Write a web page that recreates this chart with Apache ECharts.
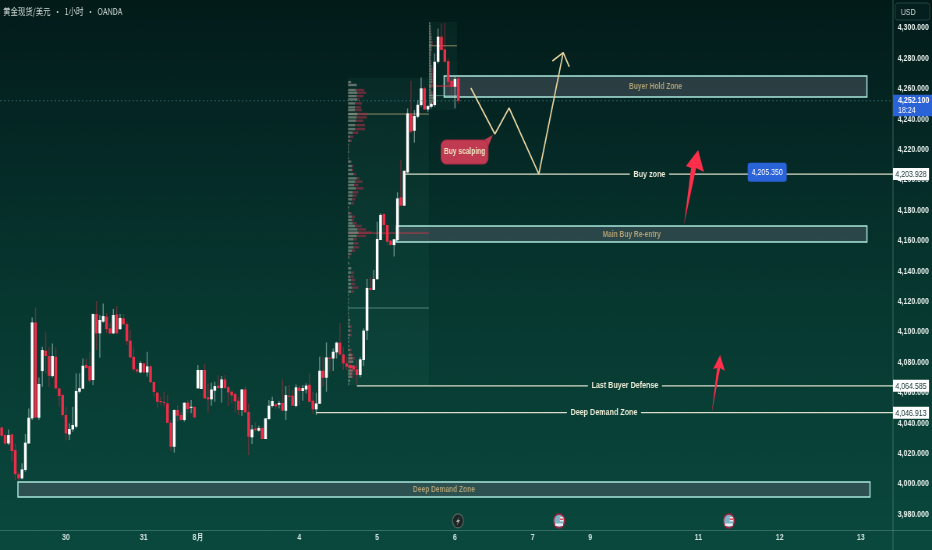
<!DOCTYPE html>
<html><head><meta charset="utf-8">
<style>html,body{margin:0;padding:0;background:#06302b;overflow:hidden;width:932px;height:550px}
#c{width:1195px;height:550px;transform:scaleX(.7799);transform-origin:0 0}</style>
<script src="https://cdn.jsdelivr.net/npm/echarts@6/dist/echarts.min.js"></script>
</head><body><div id="c"></div>
<script>
const opens=[4037.2,4032.2,4026.7,4032.6,4022.3,4006.5,4003.7,4009.2,4026.7,4043.2,
4106.3,4043.6,4074.3,4087.7,4084.2,4071.0,4083.7,4062.9,4058.5,4045.4,
4032.6,4035.9,4037.7,4060.7,4062.7,4078.3,4077.6,4068.4,4111.8,4099.1,
4106.8,4110.1,4102.4,4099.1,4111.6,4101.9,4109.0,4105.2,4094.3,4083.7,
4075.4,4073.4,4079.4,4073.4,4077.4,4067.1,4060.1,4054.6,4053.9,4053.0,
4040.3,4024.5,4048.7,4045.4,4042.1,4053.5,4050.2,4050.8,4062.9,4062.5,
4075.0,4057.0,4055.7,4061.4,4064.7,4063.1,4068.8,4063.6,4060.7,4059.2,
4054.8,4048.7,4062.2,4047.3,4030.7,4036.4,4035.1,4036.8,4029.6,4042.7,
4051.3,4052.4,4052.2,4053.3,4048.2,4058.1,4058.1,4051.3,4063.3,4061.2,
4062.2,4065.3,4054.8,4049.1,4052.8,4074.5,4069.9,4083.1,4082.6,4086.6,
4093.0,4085.3,4079.4,4078.3,4077.6,4075.5,4071.7,4081.6,4100.9,4129.0,
4127.7,4134.7,4160.5,4177.6,4170.4,4160.1,4157.2,4160.5,4188.6,4183.1,
4205.0,4243.4,4232.4,4241.6,4249.3,4260.3,4246.4,4248.2,4249.3,4277.8,
4294.3,4285.9,4278.2,4265.3,4261.4,4266.8];
const closes=[4031.8,4026.7,4032.2,4021.7,4006.5,4003.7,4009.6,4027.2,4043.6,4106.3,
4043.8,4065.8,4088.1,4084.2,4071.2,4084.2,4062.9,4057.9,4045.4,4033.3,
4036.2,4038.8,4061.2,4063.1,4077.8,4076.3,4068.0,4111.8,4099.1,4107.9,
4110.5,4101.9,4099.1,4111.2,4099.1,4109.2,4105.0,4094.0,4083.3,4075.4,
4074.1,4079.6,4073.4,4077.4,4066.9,4060.5,4054.1,4053.9,4053.3,4040.3,
4024.5,4048.7,4044.9,4042.1,4053.5,4049.3,4050.8,4043.8,4075.0,4075.0,
4056.3,4055.7,4062.2,4064.4,4063.1,4068.8,4063.1,4060.3,4058.3,4054.4,
4048.7,4062.2,4047.1,4031.1,4035.9,4035.5,4036.8,4029.6,4043.2,4051.5,
4054.6,4051.1,4053.3,4048.2,4058.5,4057.4,4051.5,4063.6,4061.2,4063.1,
4064.7,4054.1,4049.1,4053.0,4074.5,4069.9,4083.3,4082.6,4087.0,4093.0,
4085.3,4079.4,4077.2,4076.1,4075.4,4071.7,4082.0,4100.9,4129.0,4127.7,
4134.9,4161.2,4177.0,4170.4,4159.4,4157.2,4161.0,4187.9,4183.1,4206.1,
4243.8,4231.8,4242.1,4249.5,4260.3,4246.4,4248.6,4250.0,4277.8,4294.3,
4285.5,4277.8,4264.6,4261.4,4266.4,4252.1];
const lows=[4031.1,4025.6,4025.6,4014.7,4002.6,4002.2,4003.0,4008.1,4026.3,4042.1,
4043.2,4042.1,4064.0,4072.8,4064.0,4070.1,4062.5,4050.8,4044.3,4028.5,
4028.9,4034.4,4036.6,4059.6,4062.7,4075.8,4066.6,4065.1,4088.1,4083.1,
4106.1,4099.1,4098.7,4098.7,4098.7,4101.3,4104.6,4091.4,4082.6,4073.9,
4072.8,4072.8,4072.8,4070.6,4066.6,4057.4,4050.2,4051.9,4050.8,4039.9,
4021.9,4020.6,4041.0,4041.6,4041.0,4046.5,4046.5,4043.2,4062.9,4062.5,
4056.3,4046.9,4051.5,4054.1,4063.1,4053.7,4062.7,4051.3,4053.0,4047.1,
4045.4,4044.9,4047.1,4019.0,4026.3,4034.4,4034.4,4029.6,4029.6,4042.5,
4050.4,4049.1,4049.7,4048.2,4042.1,4054.8,4051.3,4050.4,4051.9,4054.8,
4059.6,4053.9,4046.0,4045.4,4052.6,4064.0,4060.7,4073.9,4074.3,4082.6,
4084.8,4075.0,4075.0,4070.6,4075.0,4065.6,4070.2,4077.7,4094.8,4127.2,
4127.7,4134.7,4160.5,4163.8,4157.2,4157.2,4149.6,4159.4,4183.1,4183.1,
4204.4,4230.7,4224.6,4240.5,4248.2,4246.0,4244.9,4247.1,4248.2,4276.7,
4285.5,4277.2,4262.5,4255.9,4247.1,4250.0];
const highs=[4037.7,4033.3,4035.9,4033.3,4026.7,4008.1,4013.6,4032.9,4049.7,4109.6,
4116.2,4070.1,4090.3,4099.7,4090.3,4092.5,4089.9,4062.9,4059.6,4050.8,
4039.9,4050.8,4072.8,4072.8,4082.6,4082.6,4086.6,4112.2,4120.4,4111.2,
4118.8,4112.2,4105.7,4115.1,4117.1,4111.8,4111.8,4106.8,4101.3,4089.9,
4076.1,4080.9,4079.4,4087.0,4078.3,4067.3,4060.7,4057.4,4060.7,4058.5,
4042.1,4049.1,4051.9,4047.6,4053.5,4055.2,4055.2,4050.8,4078.3,4075.0,
4078.9,4066.2,4066.6,4067.3,4071.7,4071.0,4071.7,4064.7,4061.8,4060.3,
4057.4,4062.2,4064.4,4053.0,4038.8,4040.5,4038.3,4037.7,4043.2,4055.2,
4057.4,4053.0,4054.6,4068.8,4064.4,4065.1,4061.8,4065.5,4065.1,4065.1,
4066.2,4072.8,4060.7,4060.1,4083.7,4083.7,4093.2,4083.7,4089.2,4093.6,
4105.7,4090.3,4083.7,4087.0,4078.3,4081.6,4083.4,4102.4,4134.9,4136.4,
4140.8,4172.6,4178.1,4178.5,4170.4,4160.5,4161.0,4191.9,4213.2,4206.1,
4247.1,4265.3,4246.0,4252.6,4267.5,4261.4,4249.3,4250.8,4283.3,4299.7,
4303.0,4303.5,4280.0,4267.9,4267.9,4267.9];

const xTickIndex=[19,42,58,88,111,134,157,174,206,230,254];
const xTickLabels=['30','31','8月','4','5','6','7','9','11','12','13'];
const yTicks=[3980,4000,4020,4040,4060,4080,4100,4120,4140,4160,4180,4200,4220,4240,4260,4280,4300];

const vp1Prices=[4264.4,4262.5,4259.2,4257.4,4255.2,4253.0,4250.4,4247.8,4246.0,4243.4,4241.2,4239.0,4236.1,4233.5,4231.1,4228.5,4225.9,4223.0,4220.8,4218.6,4216.4,4214.3,4212.1,4209.2,4206.6,4203.9,4201.1,4198.9,4196.7,4194.5,4191.9,4189.7,4187.3,4184.7,4182.0,4180.0,4178.1,4175.9,4173.7,4171.5,4169.7,4167.5,4165.4,4163.2,4161.0,4158.3,4155.7,4153.5,4151.3,4149.1,4145.2,4141.9,4139.1,4136.4,4134.2,4131.6,4129.2,4126.6,4124.4,4121.5,4119.3,4116.7,4114.5,4112.3,4110.1,4107.9,4105.7,4103.6,4100.9,4098.0,4095.9,4093.7,4090.8,4088.2,4084.9,4082.7,4080.5,4077.2,4074.6,4072.6,4070.6,4068.0,4065.8];
const vp1Gray=[9,26,24,28,26,28,21,21,21,28,26,24,21,21,14,6,6,2,2,3,1,2,8,11,11,16,26,21,18,23,14,14,11,9,3,1,6,11,11,14,21,28,31,26,16,16,16,11,6,3,3,9,9,6,9,9,12,9,2,2,2,2,2,2,2,6,4,6,6,6,3,3,3,6,11,14,16,18,14,12,11,6,3];
const vp1Red=[0,0,24,26,20,6,20,18,20,32,30,22,30,30,17,10,5,2,0,0,0,0,3,5,5,8,8,22,13,23,17,12,10,9,0,0,5,10,7,12,20,26,40,28,10,15,17,10,5,3,0,2,9,12,12,12,19,9,0,0,0,0,0,0,0,0,0,5,5,5,0,0,0,5,5,7,0,8,7,6,5,0,0];
const vp2Prices=[4303.0,4301.2,4299.5,4297.7,4296.0,4294.2,4292.5,4290.7,4289.0,4287.2,4285.5,4283.7,4282.0,4280.2,4278.5,4276.7,4275.0,4273.2,4271.5,4269.7,4268.0,4266.2,4264.5,4262.7,4261.0,4259.2,4257.5,4255.7,4254.0,4252.2,4250.5,4248.7];
const vp2Gray=[4,5,5,6,6,7,7,8,8,7,7,6,6,5,6,6,7,8,8,9,9,10,10,8,7,6,9,11,14,12,10,6];
const vp2Red=[0,0,1,1,2,2,2,3,3,2,2,1,1,0,1,1,2,3,3,4,5,6,6,4,3,2,4,6,8,6,4,0];

const vaLeft=[102.4,126.3], vaRight=[126.3,134.6], vaTop=[4267.1,4303.9], vaBottom=[4065.1,4246.1];
const pocPrices=[4243.4,4165.1,4115.8,4288.3,4261.8,4255.5];
const pocLeft=[102.4,102.4,102.4,126.3,126.3,126.3];
const pocRight=[126.3,126.3,126.3,134.6,134.6,134.6];
const pocColors=['rgba(190,170,120,.75)','rgba(215,50,75,.8)','rgba(150,205,195,.5)','rgba(190,170,120,.75)','rgba(235,50,75,.9)','rgba(150,205,195,.5)'];

const zoneNames=['Buyer Hold Zone','Main Buy Re-entry','Deep Demand Zone'];
const zoneLeft=[130.8,116.7,4.8], zoneRight=[255.8,255.8,256.7];
const zoneTop=[4268.4,4169.7,4001.3], zoneBottom=[4254.6,4159.2,3991.4];

const levelNames=['Buy zone','Last Buyer Defense','Deep Demand Zone'];
const levelPrices=[4203.928,4064.585,4046.913];
const levelTags=['4,203.928','4,064.585','4,046.913'];
const levelStart=[119.2,105.0,92.9], gapStart=[185.7,173.3,167.1], gapEnd=[197.3,195.2,189.0];

const lastPrice=4252.1, lastPriceText='4,252.100', countdown='18:24';
const badgeIndex=226.3, badgePrice=4205.35, badgeText='4,205.350';

const pathX=[138.7,145.8,150.0,158.8,166.0], pathY=[4260.5,4230.3,4247.4,4203.9,4283.8];
const headX=[162.8,166.0,167.8], headY=[4278.3,4283.8,4274.5];
const arrowBigX=[201.7,203.8,202.3,205.9,207.6,205.3], arrowBigY=[4170.4,4207.9,4209.2,4219.7,4205.3,4207.9];
const arrowSmallX=[209.9,211.5,210.3,212.4,213.8,212.4], arrowSmallY=[4046.7,4076.3,4075.7,4084.9,4074.3,4076.3];

const calloutText='Buy scalping';
const calloutBox=[129.9,143.8,4226.3,4210.5], calloutTip=[145.2,4229.6];

const eventIndex=[134.9,164.8,215.0], eventKinds=['bolt','flag','flag'], eventPrice=3975.7;

const SANS='"Liberation Sans",sans-serif';
const WHITE='#ffffff', RED='#f02c48';
const ZONE_EDGE='#a9e6dc', TAN='#ad9d72', LEVEL='#d9dcc8';
const XS=1195/932; // drawing is squeezed sideways by the page

const chart=echarts.init(document.getElementById('c'));

function layer(name,rows,z,render){
  return {type:'custom',name,coordinateSystem:'cartesian2d',z,silent:true,clip:false,
    data:rows,encode:{x:0,y:1},renderItem:render};
}
function rectOf(api,x0,x1,yTop,yBot){
  const a=api.coord([x0,yTop]), b=api.coord([x1,yBot]);
  return {x:a[0],y:a[1],width:b[0]-a[0],height:b[1]-a[1]};
}
function poly(api,xs,ys){return xs.map((x,i)=>api.coord([x,ys[i]]));}

const candleRows=opens.map((o,i)=>[i,o,closes[i],lows[i],highs[i]]);
const series=[];

series.push(layer('ranges',vaLeft.map((x,i)=>[x,i]),3,(p,api)=>{
  const i=p.dataIndex;
  return {type:'rect',shape:rectOf(api,vaLeft[i],vaRight[i],vaTop[i],vaBottom[i]),style:{fill:'rgba(90,190,160,.06)'}};
}));
series.push(layer('zones',zoneNames.map((n,i)=>[zoneLeft[i],zoneTop[i]]),4,(p,api)=>{
  const i=p.dataIndex;
  return {type:'rect',shape:rectOf(api,zoneLeft[i],zoneRight[i],zoneTop[i],zoneBottom[i]),
    style:{fill:'rgba(95,100,115,.42)',stroke:ZONE_EDGE,lineWidth:1.5}};
}));
series.push(layer('profile levels',pocPrices.map((y,i)=>[pocLeft[i],y]),5,(p,api)=>{
  const i=p.dataIndex;
  const a=api.coord([pocLeft[i],pocPrices[i]]), b=api.coord([pocRight[i],pocPrices[i]]);
  return {type:'line',shape:{x1:a[0],y1:a[1],x2:b[0],y2:b[1]},style:{stroke:pocColors[i],lineWidth:1}};
}));
function profile(name,prices,gray,red,leftIndex){
  return layer(name,prices.map((y,i)=>[leftIndex,y]),6,(p,api)=>{
    const i=p.dataIndex, a=api.coord([leftIndex,prices[i]]);
    const k=XS/3;
    return {type:'group',children:[
      {type:'rect',shape:{x:a[0],y:a[1]-1.2,width:gray[i]*k,height:2.4},style:{fill:'rgba(150,158,145,.62)'}},
      {type:'rect',shape:{x:a[0]+gray[i]*k,y:a[1]-1.2,width:red[i]*k,height:2.4},style:{fill:'rgba(160,45,70,.62)'}}
    ]};
  });
}
series.push(profile('profile 1',vp1Prices,vp1Gray,vp1Red,102.4));
series.push(profile('profile 2',vp2Prices,vp2Gray,vp2Red,126.3));
series.push({type:'custom',name:'XAUUSD',coordinateSystem:'cartesian2d',z:7,silent:true,clip:true,
  data:candleRows,encode:{x:0,y:[1,2,3,4]},
  renderItem:(p,api)=>{
    const i=api.value(0),o=api.value(1),c=api.value(2),l=api.value(3),h=api.value(4);
    const up=c>=o, w=2.7*XS, wk=1.1*XS;
    const t=api.coord([i,Math.max(o,c)]), b=api.coord([i,Math.min(o,c)]);
    const hi=api.coord([i,h]), lo=api.coord([i,l]);
    return {type:'group',children:[
      {type:'rect',shape:{x:t[0]-wk/2,y:hi[1],width:wk,height:lo[1]-hi[1]},style:{fill:up?'rgba(205,230,225,.5)':'rgba(225,45,70,.42)'}},
      {type:'rect',shape:{x:t[0]-w/2,y:t[1],width:w,height:Math.max(1,b[1]-t[1])},style:{fill:up?WHITE:RED}}
    ]};
  }});
series.push(layer('zone captions',zoneNames.map((n,i)=>[zoneLeft[i],zoneTop[i]]),8,(p,api)=>{
  const i=p.dataIndex;
  const a=api.coord([(zoneLeft[i]+zoneRight[i])/2,(zoneTop[i]+zoneBottom[i])/2]);
  return {type:'text',style:{text:zoneNames[i],x:a[0],y:a[1]+.5,fill:TAN,font:'bold 8.5px '+SANS,align:'center',verticalAlign:'middle'}};
}));
series.push(layer('levels',levelPrices.map((y,i)=>[levelStart[i],y]),8,(p,api)=>{
  const i=p.dataIndex,y=levelPrices[i],g=p.coordSys;
  const a=api.coord([levelStart[i],y]),b=api.coord([gapStart[i],y]),c=api.coord([gapEnd[i],y]);
  const e=g.x+g.width, mid=(b[0]+c[0])/2;
  const ls={stroke:LEVEL,lineWidth:1.2};
  return {type:'group',children:[
    {type:'line',shape:{x1:a[0],y1:a[1],x2:b[0],y2:b[1]},style:ls},
    {type:'line',shape:{x1:c[0],y1:c[1],x2:e,y2:c[1]},style:ls},
    {type:'text',style:{text:levelNames[i],x:mid,y:a[1],fill:'#ecebd6',font:'bold 9.2px '+SANS,align:'center',verticalAlign:'middle'}},
    {type:'rect',shape:{x:e,y:a[1]-6,width:36*XS,height:12},style:{fill:'#ffffff'}},
    {type:'text',style:{text:levelTags[i],x:e+18*XS,y:a[1]+.5,fill:'#123330',font:'9px '+SANS,align:'center',verticalAlign:'middle'}}
  ]};
}));
series.push(layer('last price',[[0,lastPrice]],8,(p,api)=>{
  const g=p.coordSys,a=api.coord([0,lastPrice]),e=g.x+g.width;
  return {type:'group',children:[
    {type:'line',shape:{x1:g.x,y1:a[1],x2:e,y2:a[1]},style:{stroke:'rgba(70,140,150,.6)',lineWidth:1,lineDash:[2,3]}},
    {type:'rect',shape:{x:e,y:a[1]-6,width:39*XS,height:21.5},style:{fill:'#2a62d8'}},
    {type:'text',style:{text:lastPriceText,x:e+5*XS,y:a[1]-.5,fill:'#ffffff',font:'bold 9px '+SANS,align:'left',verticalAlign:'middle'}},
    {type:'text',style:{text:countdown,x:e+5*XS,y:a[1]+9.5,fill:'#ffffff',font:'9px '+SANS,align:'left',verticalAlign:'middle'}}
  ]};
}));
series.push(layer('badge',[[badgeIndex,badgePrice]],9,(p,api)=>{
  const a=api.coord([badgeIndex,badgePrice]);
  return {type:'group',children:[
    {type:'rect',shape:{x:a[0]-19.5*XS,y:a[1]-9,width:39*XS,height:19,r:3},style:{fill:'#2a62d8'}},
    {type:'text',style:{text:badgeText,x:a[0],y:a[1]+.5,fill:'#ffffff',font:'9px '+SANS,align:'center',verticalAlign:'middle'}}
  ]};
}));
const PATH='#e6d3a0';
series.push({type:'line',name:'path',data:pathX.map((x,i)=>[x,pathY[i]]),z:9,showSymbol:false,silent:true,lineStyle:{color:PATH,width:1.7}});
series.push({type:'line',name:'path head',data:headX.map((x,i)=>[x,headY[i]]),z:9,showSymbol:false,silent:true,lineStyle:{color:PATH,width:1.7}});
series.push(layer('arrows',[[arrowBigX[0],arrowBigY[0]],[arrowSmallX[0],arrowSmallY[0]]],9,(p,api)=>{
  const pts=p.dataIndex===0?poly(api,arrowBigX,arrowBigY):poly(api,arrowSmallX,arrowSmallY);
  return {type:'polygon',shape:{points:pts},style:{fill:'#ff2e4a'}};
}));
series.push(layer('callout',[[calloutBox[0],calloutBox[2]]],9,(p,api)=>{
  const r=rectOf(api,calloutBox[0],calloutBox[1],calloutBox[2],calloutBox[3]);
  const tip=api.coord(calloutTip);
  return {type:'group',children:[
    {type:'polygon',shape:{points:[[r.x+r.width-6*XS,r.y+1],tip,[r.x+r.width-1*XS,r.y+9]]},style:{fill:'#c03a52'}},
    {type:'rect',shape:{...r,r:6},style:{fill:'#c03a52',stroke:'#a82b44',lineWidth:1}},
    {type:'text',style:{text:calloutText,x:r.x+r.width/2,y:r.y+r.height/2,fill:'#efe6c0',font:'bold 8.5px '+SANS,align:'center',verticalAlign:'middle'}}
  ]};
}));
series.push(layer('events',eventIndex.map(x=>[x,eventPrice]),9,(p,api)=>{
  const i=p.dataIndex,a=api.coord([eventIndex[i],eventPrice]),x=a[0],y=a[1];
  if(eventKinds[i]==='bolt'){
    return {type:'group',children:[
      {type:'circle',shape:{cx:x,cy:y,r:7},style:{fill:'#1a2524',stroke:'#566260',lineWidth:1.3}},
      {type:'polygon',shape:{points:[[x+2,y-4.5],[x-2.5,y+1],[x-.2,y+1],[x-1.5,y+4.5],[x+2.5,y-1],[x+.2,y-1]]},style:{fill:'#aab4b2'}}
    ]};
  }
  return {type:'group',children:[
    {type:'circle',shape:{cx:x,cy:y,r:7},style:{fill:'#7eb2c6',stroke:'#a5223f',lineWidth:1.6}},
    {type:'rect',shape:{x:x-5,y:y+2.5,width:10,height:2.6},style:{fill:'#e8eef0'}},
    {type:'rect',shape:{x:x+1,y:y-4,width:4.4,height:4.4},style:{fill:'#e8eef0'}},
    {type:'rect',shape:{x:x+1,y:y-2.4,width:4.4,height:1.3},style:{fill:'#d03a4a'}}
  ]};
}));

chart.setOption({
  animation:false,
  backgroundColor:{type:'linear',x:0,y:0,x2:0,y2:1,colorStops:[
    {offset:0,color:'#021b19'},{offset:.25,color:'#052825'},{offset:.55,color:'#073830'},{offset:1,color:'#0a483d'}]},
  title:{text:'黄金现货/美元  •  1小时  •  OANDA',left:4,top:7,padding:0,textStyle:{color:'#cfd8d4',fontSize:9.5,fontWeight:'normal',fontFamily:'"Noto Sans CJK SC"'}},
  grid:{left:0,top:0,right:50,bottom:20,outerBoundsMode:'none'},
  xAxis:{type:'value',min:-0.5,max:263.5,splitLine:{show:false},axisLine:{show:false},axisTick:{show:false},
    axisLabel:{customValues:xTickIndex,margin:3,color:'#cfe3dd',fontFamily:SANS,fontWeight:'bold',fontSize:9,
      formatter:v=>xTickLabels[xTickIndex.indexOf(v)]}},
  yAxis:{type:'value',position:'right',min:3969.74,max:4318.42,splitLine:{show:false},axisLine:{show:false},axisTick:{show:false},
    axisLabel:{customValues:yTicks,margin:6,color:'#e6efeb',fontFamily:SANS,fontWeight:'bold',fontSize:9,
      formatter:v=>v.toLocaleString('en-US',{minimumFractionDigits:3})}},
  graphic:[
    {type:'line',silent:true,z:1,shape:{x1:1145,y1:0,x2:1145,y2:550},style:{stroke:'rgba(120,170,160,.38)',lineWidth:1.2}},
    {type:'line',silent:true,z:1,shape:{x1:0,y1:530.5,x2:1195,y2:530.5},style:{stroke:'rgba(120,170,160,.38)',lineWidth:1}},
    {type:'rect',silent:true,z:1,shape:{x:1148,y:3,width:44,height:17,r:3},style:{fill:'#041f1e',stroke:'#1f4643',lineWidth:1}},
    {type:'text',silent:true,z:2,style:{text:'USD',x:1155,y:8,fill:'#cfd8d4',font:'9px '+SANS}}
  ],
  series
});
</script></body></html>
